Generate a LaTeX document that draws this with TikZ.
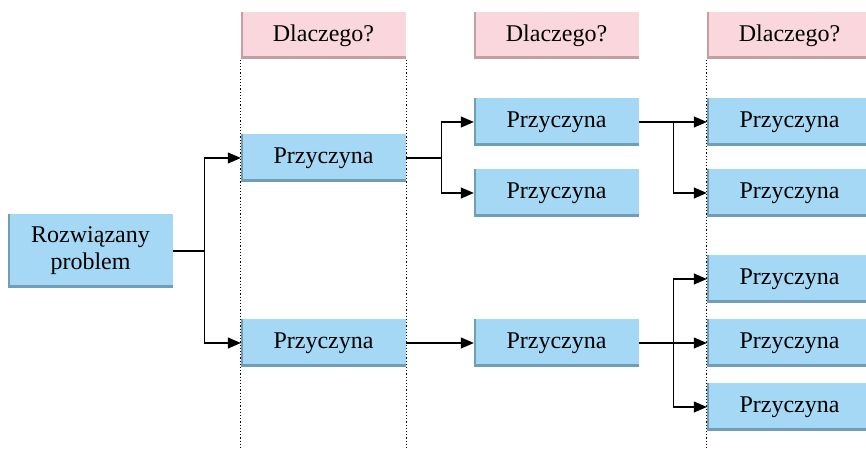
\documentclass[tikz,border=0pt]{standalone}
\usepackage{fontspec}
\setmainfont{Liberation Serif}
\usetikzlibrary{arrows.meta}

\definecolor{boxblue}{RGB}{164,216,244}
\definecolor{blueedge}{RGB}{112,158,182}
\definecolor{boxpink}{RGB}{249,215,220}
\definecolor{pinkedge}{RGB}{196,158,162}

\tikzset{
  bevel/.style={path picture={
    \fill[#1] (path picture bounding box.south west) rectangle ([yshift=3pt]path picture bounding box.south east);
    \fill[#1] (path picture bounding box.south west) rectangle ([xshift=2pt]path picture bounding box.north west);
  }},
  causebox/.style={fill=boxblue, bevel=blueedge, minimum width=165pt, minimum height=48pt,
    inner sep=0pt, font=\fontsize{24}{27}\selectfont, align=center},
  whybox/.style={fill=boxpink, bevel=pinkedge, minimum width=165pt, minimum height=47pt,
    inner sep=0pt, font=\fontsize{24}{27}\selectfont},
  arr/.style={-{Triangle[length=13pt,width=11pt]}, line width=1.2pt},
  guide/.style={dotted, line width=1.2pt}
}

\begin{document}
\begin{tikzpicture}[x=1pt,y=-1pt]
	\useasboundingbox (0,0) rectangle (866,449);
	
	\node[whybox] (q1) at (323.5,36) {Dlaczego?};
	\node[whybox] (q2) at (556.5,36) {Dlaczego?};
	\node[whybox] (q3) at (789.5,36) {Dlaczego?};
	
	\node[causebox, minimum height=74pt] (root) at (90.5,251) {Rozwiązany\\problem};
	
	\node[causebox] (a1) at (323.5,158) {Przyczyna};
	\node[causebox] (a2) at (323.5,343) {Przyczyna};
	
	\node[causebox] (b1) at (556.5,122) {Przyczyna};
	\node[causebox] (b2) at (556.5,193) {Przyczyna};
	\node[causebox] (b3) at (556.5,343) {Przyczyna};
	
	\node[causebox] (c1) at (789.5,122) {Przyczyna};
	\node[causebox] (c2) at (789.5,193) {Przyczyna};
	\node[causebox] (c3) at (789.5,279) {Przyczyna};
	\node[causebox] (c4) at (789.5,343) {Przyczyna};
	\node[causebox] (c5) at (789.5,407) {Przyczyna};
	
	\draw[guide] (q1.south west) -- (q1.south west |- 0,449);
	\draw[guide] (q1.south east) -- (q1.south east |- 0,449);
	\draw[guide] (q3.south west) -- (q3.south west |- 0,449);
	
	\draw[arr] (root.east) -- ++(31,0) |- (a1.west);
	\draw[arr] (root.east) -- ++(31,0) |- (a2.west);
	
	\draw[arr] (a1.east) -- ++(35,0) |- (b1.west);
	\draw[arr] (a1.east) -- ++(35,0) |- (b2.west);
	\draw[arr] (a2.east) -- (b3.west);
	
	\draw[arr] (b1.east) -- (c1.west);
	\draw[arr] (b1.east) -- ++(34,0) |- (c2.west);
	\draw[arr] (b3.east) -- ++(34,0) |- (c3.west);
	\draw[arr] (b3.east) -- (c4.west);
	\draw[arr] (b3.east) -- ++(34,0) |- (c5.west);
\end{tikzpicture}
\end{document}
